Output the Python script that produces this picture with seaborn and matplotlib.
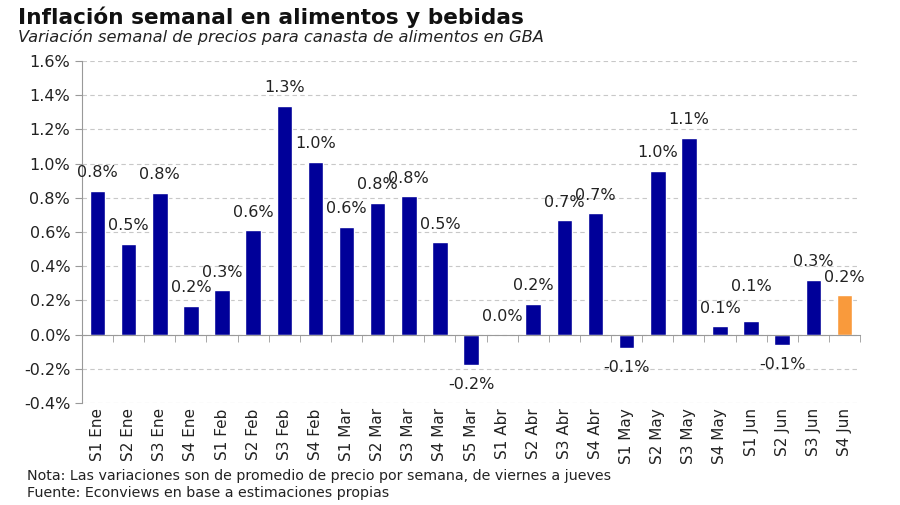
import numpy as np
import pandas as pd
import seaborn as sns
import matplotlib.pyplot as plt
from matplotlib.ticker import FuncFormatter, MultipleLocator

# datos (variacion semanal, %)
semanas = ["S1 Ene", "S2 Ene", "S3 Ene", "S4 Ene", "S1 Feb", "S2 Feb", "S3 Feb", "S4 Feb",
           "S1 Mar", "S2 Mar", "S3 Mar", "S4 Mar", "S5 Mar", "S1 Abr", "S2 Abr", "S3 Abr",
           "S4 Abr", "S1 May", "S2 May", "S3 May", "S4 May", "S1 Jun", "S2 Jun", "S3 Jun",
           "S4 Jun"]
variacion = [0.84, 0.53, 0.83, 0.17, 0.26, 0.61, 1.34, 1.01,
             0.63, 0.77, 0.81, 0.54, -0.18, 0.0, 0.18, 0.67,
             0.71, -0.08, 0.96, 1.15, 0.05, 0.08, -0.06, 0.32,
             0.23]
ultima = "S4 Jun"

azul = "#000099"
naranja = "#F99A3C"

df = pd.DataFrame({"semana": semanas, "var": variacion})
df["tipo"] = np.where(df["semana"] == ultima, "ultima", "normal")

sns.set_style("white")
plt.rcParams["font.family"] = ["DejaVu Sans"]

fig = plt.figure(figsize=(9, 5.05), dpi=100)
ax = fig.add_axes([0.0911, 0.202, 0.8645, 0.677])

sns.barplot(data=df, x="semana", y="var", hue="tipo", dodge=False,
            palette={"normal": azul, "ultima": naranja}, width=0.5,
            legend=False, ax=ax, saturation=1)

ax.set_ylim(-0.4, 1.6)
ax.set_xlim(-0.5, len(semanas) - 0.5)
ax.yaxis.set_major_locator(MultipleLocator(0.2))
ax.yaxis.set_major_formatter(FuncFormatter(lambda v, p: f"{v:.1f}%"))
ax.grid(axis="y", color="#c8c8c8", linestyle=(0, (4, 3)), linewidth=0.8)
ax.set_axisbelow(True)

for s in ["top", "right"]:
    ax.spines[s].set_visible(False)
ax.spines["left"].set_color("#999999")
ax.spines["bottom"].set_color("#999999")
ax.spines["bottom"].set_position(("data", 0))

ax.set_xticks(np.arange(len(semanas)))
ax.set_xticklabels(semanas, rotation=90)
ax.set_xticks(np.arange(len(semanas) + 1) - 0.5, minor=True)
ax.tick_params(axis="x", which="major", length=0, pad=53, labelsize=11, colors="#222222")
ax.tick_params(axis="x", which="minor", length=5, direction="out", color="#999999", bottom=True)
ax.tick_params(axis="y", length=5, direction="out", color="#999999", labelsize=11.5,
               colors="#222222", left=True)
ax.set_xlabel("")
ax.set_ylabel("")

# etiqueta de S1 Jun algo mas arriba, como en el original
extra = {"S1 Jun": 12}
for i, v in enumerate(variacion):
    off = 13 if v >= 0 else -14
    off += extra.get(semanas[i], 0)
    ax.annotate(f"{v:.1f}%", (i, v), xytext=(0, off), textcoords="offset points",
                ha="center", va="center", fontsize=11.5, color="#222222")

fig.text(0.02, 0.965, "Inflación semanal en alimentos y bebidas", fontsize=15.6,
         fontweight="bold", va="center", color="#111111")
fig.text(0.02, 0.926, "Variación semanal de precios para canasta de alimentos en GBA",
         fontsize=11.7, style="italic", va="center", color="#222222")
fig.text(0.03, 0.057, "Nota: Las variaciones son de promedio de precio por semana, de viernes a jueves",
         fontsize=10.3, va="center", color="#222222")
fig.text(0.03, 0.024, "Fuente: Econviews en base a estimaciones propias",
         fontsize=10.3, va="center", color="#222222")

fig.savefig("out.png", dpi=100)
